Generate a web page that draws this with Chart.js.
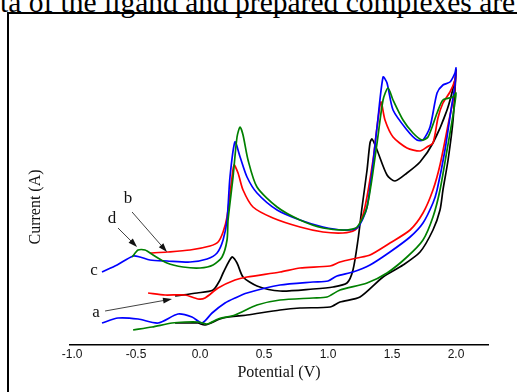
<!DOCTYPE html>
<html>
<head>
<meta charset="utf-8">
<script src="https://cdn.jsdelivr.net/npm/chart.js@4.4.1/dist/chart.umd.min.js"></script>
<style>
  html, body { margin: 0; padding: 0; background: #fff; }
  #wrap { position: relative; width: 517px; height: 392px; overflow: hidden; }
  #toptext { position: absolute; left: 0px; top: -12px; font-family: "Liberation Serif", serif; font-size: 29.5px; line-height: 29px; white-space: nowrap; color: #000; }
  #frame { position: absolute; left: 7px; top: 12px; width: 700px; height: 600px; border-left: 2px solid #000; border-top: 2px solid #000; }
  #cv { position: absolute; left: 0; top: 0; width: 517px; height: 392px; }
</style>
</head>
<body>
<div id="wrap">
  <div id="toptext">ta of the ligand and prepared complexes are</div>
  <div id="frame"></div>
  <div id="cv"><canvas id="c"></canvas></div>
</div>
<script>
// ---- data (potential in V, current in arbitrary units) ----
const xTicks = [-1.0, -0.5, 0.0, 0.5, 1.0, 1.5, 2.0];

const potentialA = [-0.195,-0.023,0.102,0.156,0.18,0.25,0.289,0.336,0.445,0.625,0.883,1.039,1.148,1.195,1.234,1.266,1.305,1.328,1.344,1.383,1.461,1.523,1.617,1.719,1.82,1.93,1.992,2.0,
  1.977,1.938,1.898,1.875,1.82,1.719,1.586,1.43,1.25,1.094,1.016,0.781,0.625,0.367,0.18,0.039,-0.016,-0.078,-0.195];
const currentA = [4.9,5.2,5.5,6.5,7.2,8.8,8.2,6.8,5.9,5.4,5.6,5.8,6.2,7.5,10.5,13.8,17.5,20.2,20.6,19.5,17.0,16.4,17.2,18.3,20.2,23.5,26.5,27.5,
  22.5,18.5,15.5,13.5,11.5,9.3,8.0,6.8,4.8,4.3,3.8,3.7,3.5,3.0,2.7,2.0,2.2,2.2,2.2];

const potentialB = [-0.391,-0.258,-0.078,0.078,0.141,0.18,0.211,0.25,0.266,0.297,0.336,0.414,0.57,0.781,0.961,1.117,1.211,1.25,1.289,1.352,1.383,1.414,1.445,1.508,1.617,1.719,1.773,1.82,1.859,1.898,1.953,1.992,2.0,
  1.984,1.938,1.875,1.82,1.742,1.641,1.484,1.328,1.227,1.094,1.016,0.781,0.625,0.367,0.273,0.141,0.039,-0.016,-0.117,-0.273,-0.406];
const currentB = [9.2,9.3,9.5,9.9,10.3,11.3,12.8,16.8,18.0,17.2,15.5,13.8,12.7,11.8,11.3,11.2,11.5,12.2,13.8,18.5,21.8,24.3,22.5,20.8,19.7,19.4,19.8,20.2,22.7,24.2,25.3,26.5,27.3,
  25.0,22.0,18.0,15.5,13.2,11.5,10.2,9.0,8.7,8.3,7.9,7.7,7.3,6.8,6.5,5.7,4.7,4.6,5.0,5.0,5.2];

const potentialC = [-0.766,-0.648,-0.523,-0.469,-0.391,-0.258,-0.078,0.055,0.133,0.18,0.211,0.234,0.273,0.313,0.367,0.445,0.602,0.781,0.961,1.117,1.227,1.305,1.383,1.43,1.461,1.508,1.617,1.695,1.742,1.797,1.852,1.898,1.953,1.992,2.0,
  1.992,1.961,1.914,1.852,1.82,1.742,1.641,1.484,1.328,1.195,1.07,1.0,0.883,0.625,0.367,0.273,0.195,0.094,0.016,-0.063,-0.172,-0.328,-0.484,-0.641,-0.766];
const currentC = [7.3,8.0,8.9,8.8,8.5,8.4,8.3,8.6,9.2,10.5,12.5,16.8,20.3,18.8,16.8,15.2,13.5,12.5,11.8,11.5,11.7,13.8,21.8,26.8,26.2,23.5,21.5,20.5,20.5,21.8,25.2,26.0,26.3,27.2,27.7,
  26.0,23.5,19.5,15.5,14.2,12.2,10.8,9.3,8.0,7.3,6.9,6.4,6.3,6.0,5.2,4.7,4.2,3.2,2.2,2.8,3.1,2.2,2.6,2.7,2.2];

const potentialD = [-0.531,-0.484,-0.43,-0.367,-0.258,-0.133,0.0,0.102,0.172,0.211,0.219,0.258,0.289,0.313,0.336,0.375,0.445,0.602,0.781,0.961,1.148,1.227,1.305,1.383,1.43,1.469,1.508,1.586,1.664,1.734,1.781,1.852,1.898,1.977,2.0,
  1.977,1.93,1.875,1.82,1.742,1.617,1.461,1.305,1.094,0.992,0.883,0.625,0.445,0.273,0.141,0.055,-0.016,-0.117,-0.219,-0.375,-0.523];
const currentD = [8.8,9.5,9.5,9.0,8.2,7.8,7.7,8.0,8.8,10.5,12.5,16.8,20.8,21.8,21.0,18.5,15.8,13.8,12.5,11.7,11.5,11.8,13.8,20.2,24.5,25.7,24.5,22.5,21.2,20.5,20.8,23.2,24.5,24.8,25.2,
  23.0,19.5,15.5,12.8,10.5,8.8,7.2,6.2,5.5,4.8,4.7,4.5,4.0,3.0,2.6,2.1,2.3,2.3,2.2,1.8,1.5];

// curve labels and arrows (data coordinates)
const labelNames = ['a', 'b', 'c', 'd'];
const labelPot = [-0.813, -0.563, -0.828, -0.688];
const labelCur = [3.2, 14.6, 7.4, 12.6];
const arrowFromPot = [-0.742, -0.531, null, -0.641];
const arrowFromCur = [3.4, 13.3, null, 11.7];
const arrowToPot = [-0.219, -0.258, null, -0.492];
const arrowToCur = [4.6, 9.3, null, 9.8];

const colors = ['#000000', '#ff0000', '#0000ff', '#008000'];

function pts(xs, ys) { return xs.map((x, i) => ({x: x, y: ys[i]})); }

const annot = {
  id: 'annot',
  afterDatasetsDraw(chart) {
    const {ctx, scales: {x, y}} = chart;
    ctx.save();
    ctx.fillStyle = '#111';
    ctx.strokeStyle = '#111';
    ctx.font = '17px "Liberation Serif"';
    ctx.textAlign = 'center';
    ctx.textBaseline = 'middle';
    labelNames.forEach((t, i) => {
      ctx.fillText(t, x.getPixelForValue(labelPot[i]), y.getPixelForValue(labelCur[i]));
      if (arrowFromPot[i] !== null) {
        const x1 = x.getPixelForValue(arrowFromPot[i]), y1 = y.getPixelForValue(arrowFromCur[i]);
        const x2 = x.getPixelForValue(arrowToPot[i]), y2 = y.getPixelForValue(arrowToCur[i]);
        const ang = Math.atan2(y2 - y1, x2 - x1);
        ctx.lineWidth = 0.8;
        ctx.beginPath(); ctx.moveTo(x1, y1); ctx.lineTo(x2 - 6 * Math.cos(ang), y2 - 6 * Math.sin(ang)); ctx.stroke();
        ctx.beginPath();
        ctx.moveTo(x2, y2);
        ctx.lineTo(x2 - 9 * Math.cos(ang) + 3 * Math.sin(ang), y2 - 9 * Math.sin(ang) - 3 * Math.cos(ang));
        ctx.lineTo(x2 - 9 * Math.cos(ang) - 3 * Math.sin(ang), y2 - 9 * Math.sin(ang) + 3 * Math.cos(ang));
        ctx.closePath(); ctx.fill();
      }
    });
    // y axis title
    ctx.font = '16px "Liberation Serif"';
    ctx.fillStyle = '#111';
    ctx.translate(36, 207);
    ctx.rotate(-Math.PI / 2);
    ctx.textBaseline = 'middle';
    ctx.fillText('Current (A)', 0, 0);
    ctx.restore();
  }
};

const ds = (label, xs, ys, color, order) => ({
  label: label, data: pts(xs, ys), showLine: true, borderColor: color, backgroundColor: color,
  borderWidth: 1.7, pointRadius: 0, tension: 0.25, order: order, fill: false
});

new Chart(document.getElementById('c'), {
  type: 'scatter',
  data: {
    datasets: [
      ds('a', potentialA, currentA, colors[0], 3),
      ds('b', potentialB, currentB, colors[1], 2),
      ds('c', potentialC, currentC, colors[2], 1),
      ds('d', potentialD, currentD, colors[3], 0)
    ]
  },
  options: {
    responsive: true,
    maintainAspectRatio: false,
    animation: false,
    layout: { padding: { left: 70, right: 29, top: 20, bottom: 0 } },
    plugins: { legend: { display: false }, tooltip: { enabled: false } },
    scales: {
      x: {
        type: 'linear', min: -1.016, max: 2.25,
        grid: { display: false, drawTicks: false },
        border: { display: true, color: '#000', width: 1.5 },
        afterBuildTicks: s => { s.ticks = xTicks.map(v => ({value: v})); },
        afterFit: s => { s.height = 47; },
        ticks: { padding: 2, color: '#111', font: { family: '"Liberation Sans"', size: 12 }, callback: v => Number(v).toFixed(1), maxRotation: 0, autoSkip: false },
        title: { display: true, text: 'Potential (V)', color: '#111', font: { family: '"Liberation Serif"', size: 16 }, padding: { top: 0, bottom: 10 } }
      },
      y: { type: 'linear', display: false, min: 0, max: 32.5 }
    }
  },
  plugins: [annot]
});
</script>
</body>
</html>
